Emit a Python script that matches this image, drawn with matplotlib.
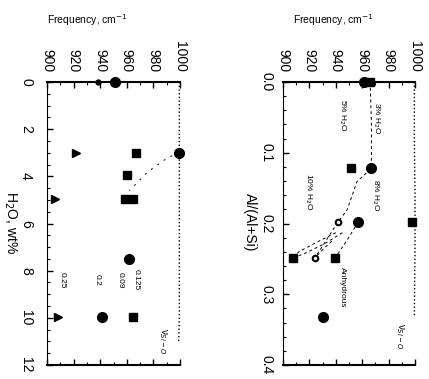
import numpy as np
import matplotlib.pyplot as plt
from matplotlib.ticker import MultipleLocator

plt.rcParams['font.family'] = ['Liberation Sans', 'DejaVu Sans']

# Left panel: band frequency (cm-1) against water content (wt%)
tri_h2o = [3.0, 4.95, 9.95]
tri_freq = [922, 906, 908.5]
dot_h2o = [0.0]
dot_freq = [938]
circ_h2o = [0.0, 3.0, 7.5, 9.95]
circ_freq = [951, 999.5, 961.5, 941]
sq_h2o = [3.0, 3.95, 4.95, 4.95, 9.95]
sq_freq = [967, 960.5, 958.5, 964.5, 964.5]
nu_h2o = [0.0, 2.0, 4.0, 6.0, 8.0, 10.0, 11.0]
nu_freq = [999.5, 999.5, 999.5, 999.5, 999.5, 999.5, 999.0]
path_h2o = [3.0, 3.2, 3.8, 4.6]
path_freq = [999.5, 991, 976, 962]
comp_labels = ["0.25", "0.2", "0.09", "0.125"]
comp_label_freq = [911, 937.5, 955, 967]

# Right panel: band frequency against Al/(Al+Si)
r_sq_al = [0.0, 0.122, 0.198, 0.249, 0.249]
r_sq_freq = [966, 951.5, 997.5, 907.6, 939.4]
r_circ_al = [0.0, 0.122, 0.198, 0.332]
r_circ_freq = [961, 967, 957, 930]
r_small_al = [0.198, 0.249]
r_small_freq = [941.6, 924]
r_nu_al = [0.0, 0.08, 0.16, 0.24, 0.33]
r_nu_freq = [999.5, 999.5, 1000, 1000, 999.5]
r_curves = [
    ([966, 967, 967, 956, 948.5, 941.6, 924], [0.0, 0.06, 0.122, 0.141, 0.181, 0.198, 0.249]),
    ([957, 948, 939.4], [0.198, 0.225, 0.249]),
    ([940, 925, 912, 907.6], [0.213, 0.227, 0.240, 0.249]),
    ([945, 932, 918, 907.6], [0.213, 0.228, 0.241, 0.249]),
    ([937, 930, 924], [0.225, 0.237, 0.249]),
]
r_labels = ["5% H$_2$O", "3% H$_2$O", "10% H$_2$O", "8% H$_2$O", "Anhydrous"]
r_label_freq = [945, 971, 919, 970, 945]
r_label_al = [0.047, 0.052, 0.155, 0.16, 0.29]

fig = plt.figure(figsize=(4.29, 3.79), dpi=100)
ax1 = fig.add_axes([47 / 429, 1 - 365 / 379, 133 / 429, 283 / 379])
ax2 = fig.add_axes([283 / 429, 1 - 365 / 379, 132 / 429, 283 / 379])

ms = 6
ax1.plot(tri_freq, tri_h2o, '>', color='black', ms=ms, clip_on=False)
ax1.plot(dot_freq, dot_h2o, 'o', color='black', ms=3.5, clip_on=False)
ax1.plot(circ_freq, circ_h2o, 'o', color='black', ms=ms + 1, clip_on=False)
ax1.plot(sq_freq, sq_h2o, 's', color='black', ms=ms, clip_on=False)
ax1.plot(nu_freq, nu_h2o, ':', color='black', lw=1, clip_on=False)
ax1.plot(path_freq, path_h2o, '--', color='black', lw=0.7, dashes=(2, 6))
for lab, f in zip(comp_labels, comp_label_freq):
    ax1.text(f, 8.4, lab, rotation=-90, ha='center', va='center', fontsize=6)
ax1.text(987, 11.0, "ν$_{Si-O}$", rotation=-90, ha='center', va='center', fontsize=7)

ax1.set_xlim(900, 1000)
ax1.set_ylim(12, 0)
ax1.set_yticks(np.arange(0, 13, 2))

for c_f, c_a in r_curves:
    ax2.plot(c_f, c_a, '--', color='black', lw=0.7, dashes=(3, 3))
ax2.plot(r_sq_freq, r_sq_al, 's', color='black', ms=ms, clip_on=False)
ax2.plot(r_circ_freq, r_circ_al, 'o', color='black', ms=ms + 1, clip_on=False)
ax2.plot(r_small_freq, r_small_al, 'o', color='black', mfc='white', mew=1.5, ms=4, clip_on=False)
ax2.plot(r_nu_freq, r_nu_al, ':', color='black', lw=1, clip_on=False)
for lab, f, a in zip(r_labels, r_label_freq, r_label_al):
    ax2.text(f, a, lab, rotation=-90, ha='center', va='center', fontsize=6)
ax2.text(988.6, 0.36, "ν$_{Si-O}$", rotation=-90, ha='center', va='center', fontsize=7)

ax2.set_xlim(900, 1000)
ax2.set_ylim(0.4, 0.0)
ax2.set_yticks([0.0, 0.1, 0.2, 0.3, 0.4])
ax2.set_yticklabels(["0.0", "0.1", "0.2", "0.3", "0.4"])

for ax, ypad in ((ax1, 10), (ax2, 7)):
    ax.xaxis.tick_top()
    ax.set_xticks(np.arange(900, 1001, 20))
    ax.xaxis.set_minor_locator(MultipleLocator(10))
    ax.tick_params(axis='x', which='both', direction='in', top=True, bottom=True,
                   labelrotation=-90, labelsize=10, pad=7)
    ax.tick_params(axis='y', which='both', direction='in', labelrotation=-90,
                   labelsize=10, pad=ypad, right=False)
    ax.tick_params(which='major', length=4, width=1)
    ax.tick_params(which='minor', length=2, width=0.8)
    ax.spines['right'].set_visible(False)
    ax.spines['top'].set_linewidth(1.5)
    ax.spines['bottom'].set_linewidth(1.5)
    ax.spines['left'].set_linewidth(0.8)
    for lbl in ax.get_yticklabels():
        lbl.set_va('center')

ax1.yaxis.set_minor_locator(MultipleLocator(0.5))
ax2.yaxis.set_minor_locator(MultipleLocator(0.02))

fig.text(87 / 429, 1 - 20 / 379, "Frequency, cm$^{-1}$", ha='center', va='center', fontsize=7.5)
fig.text(333 / 429, 1 - 20 / 379, "Frequency, cm$^{-1}$", ha='center', va='center', fontsize=7.5)
fig.text(10 / 429, 1 - 222 / 379, "H$_2$O, wt%", rotation=-90, ha='center', va='center', fontsize=10)
fig.text(250 / 429, 1 - 222 / 379, "Al/(Al+Si)", rotation=-90, ha='center', va='center', fontsize=10)

fig.savefig('out.png', dpi=100)
